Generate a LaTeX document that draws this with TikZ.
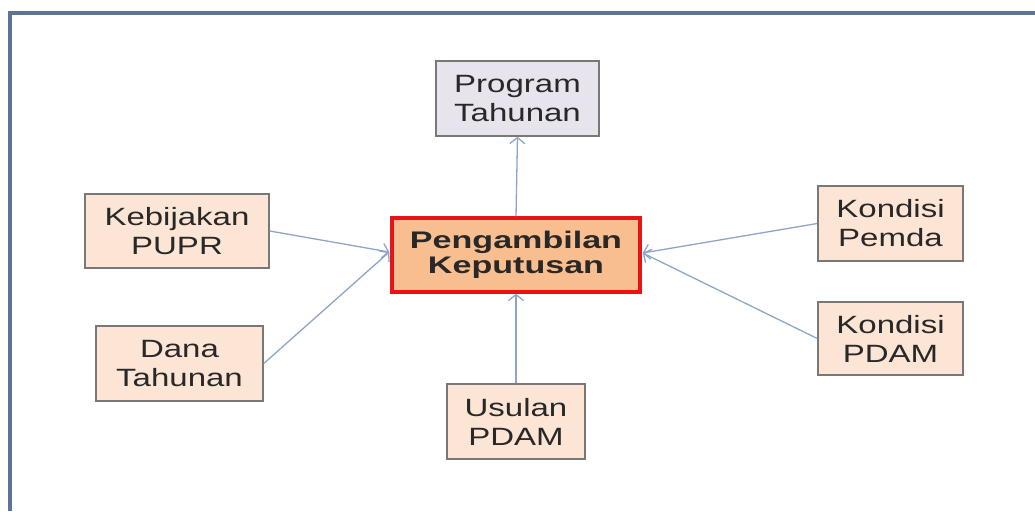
\documentclass[tikz,border=0pt]{standalone}
\usepackage{fontspec}
\setmainfont{Liberation Sans}
\newfontfamily\widefont[FakeStretch=1.32]{Liberation Sans}
\newfontfamily\widebold[FakeStretch=1.42]{Liberation Sans Bold}
\usetikzlibrary{arrows.meta}
\definecolor{framecol}{RGB}{90,117,150}
\definecolor{boxfill}{RGB}{252,229,213}
\definecolor{boxline}{RGB}{120,120,120}
\definecolor{progfill}{RGB}{231,228,237}
\definecolor{centfill}{RGB}{249,190,143}
\definecolor{centline}{RGB}{230,20,25}
\definecolor{arrcol}{RGB}{142,165,199}
\definecolor{txt}{RGB}{40,40,40}
\tikzset{
  smallbox/.style={draw=boxline, line width=1.5pt, fill=boxfill, inner sep=0pt,
    align=center, text=txt, font=\widefont\fontsize{25}{29}\selectfont},
  progbox/.style={smallbox, fill=progfill},
  centbox/.style={draw=centline, line width=3.5pt, fill=centfill, inner sep=0pt,
    align=center, text=txt, font=\widebold\fontsize{24}{25.5}\selectfont},
  conn/.style={draw=arrcol, line width=1.3pt, -{Straight Barb[length=6pt,width=15pt,line width=1.3pt]}}
}
\begin{document}
\begin{tikzpicture}[x=1pt,y=-1pt]
\useasboundingbox (0,0) rectangle (1035,511);
\draw[framecol, line width=4.5pt] (10,511) -- (10,13) -- (1035,13);
\node[progbox, minimum width=163, minimum height=75] (prog) at (517.5,98.5) {Program\\Tahunan};
\node[centbox, minimum width=248, minimum height=74] (cent) at (516,255) {Pengambilan\\Keputusan};
\node[smallbox, minimum width=184, minimum height=74] (keb) at (177,231) {Kebijakan\\PUPR};
\node[smallbox, minimum width=167, minimum height=75] (dana) at (179.5,363.5) {Dana\\Tahunan};
\node[smallbox, minimum width=145, minimum height=75] (kpem) at (890.5,223.5) {Kondisi\\Pemda};
\node[smallbox, minimum width=145, minimum height=73] (kpdam) at (890.5,338.5) {Kondisi\\PDAM};
\node[smallbox, minimum width=138, minimum height=75] (usul) at (516,421.5) {Usulan\\PDAM};
\coordinate (cw) at ([xshift=-1pt,yshift=3pt]cent.west);
\coordinate (ce) at ([xshift=1pt,yshift=2pt]cent.east);
\draw[conn] (cent.north) -- (prog.south);
\draw[conn] (usul.north) -- (cent.south);
\draw[conn] (keb.east) -- (cw);
\draw[conn] (dana.east) -- (cw);
\draw[conn] (kpem.west) -- (ce);
\draw[conn] (kpdam.west) -- (ce);
\end{tikzpicture}
\end{document}
